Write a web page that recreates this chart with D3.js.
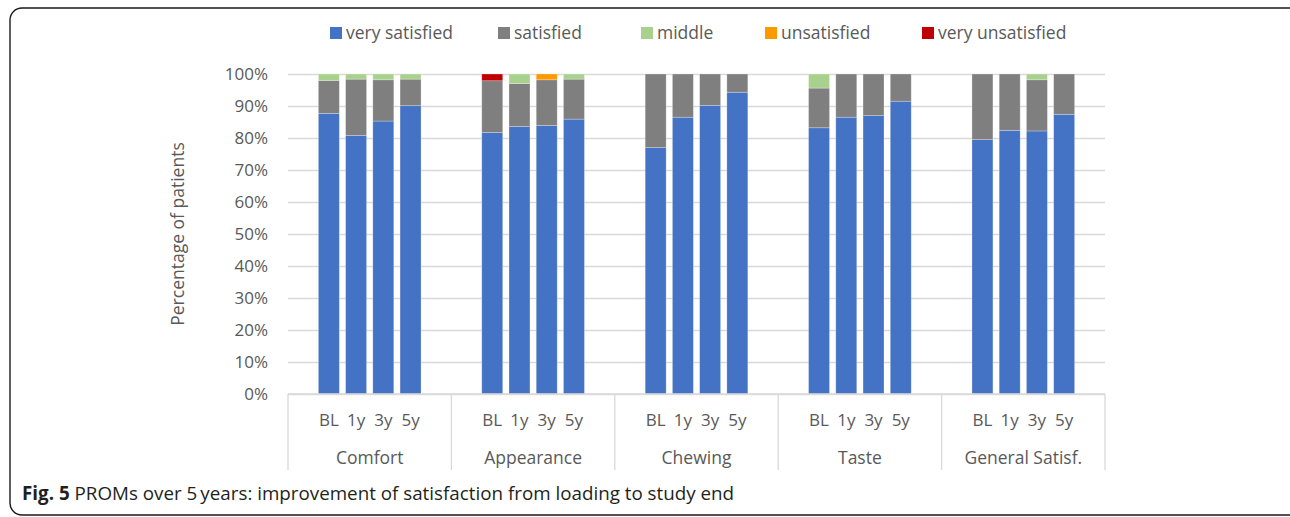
<!DOCTYPE html>
<html>
<head>
<meta charset="utf-8">
<script src="https://cdn.jsdelivr.net/npm/d3@7"></script>
<style>
  html, body { margin: 0; padding: 0; background: #fff; }
  svg { display: block; }
</style>
</head>
<body>
<svg id="chart" width="1290" height="517"></svg>
<script>
const categories = ["Comfort", "Appearance", "Chewing", "Taste", "General Satisf."];
const periods = ["BL", "1y", "3y", "5y"];
const seriesNames = ["very satisfied", "satisfied", "middle", "unsatisfied", "very unsatisfied"];
const seriesColors = ["#4472C4", "#7F7F7F", "#A9D18E", "#FF9900", "#C00000"];
// values per series, ordered category by category, period by period (%)
const verySatisfied   = [87.7, 80.8, 85.3, 90.1,  81.7, 83.6, 83.9, 85.9,  77.0, 86.5, 90.2, 94.3,  83.2, 86.5, 87.0, 91.5,  79.5, 82.4, 82.2, 87.4];
const satisfied       = [10.3, 17.6, 12.9,  8.3,  16.2, 13.4, 14.3, 12.5,  23.0, 13.5,  9.8,  5.7,  12.4, 13.5, 13.0,  8.5,  20.5, 17.6, 16.0, 12.6];
const middle          = [ 2.0,  1.6,  1.8,  1.6,   0.0,  3.0,  0.0,  1.6,   0.0,  0.0,  0.0,  0.0,   4.4,  0.0,  0.0,  0.0,   0.0,  0.0,  1.8,  0.0];
const unsatisfied     = [ 0.0,  0.0,  0.0,  0.0,   0.0,  0.0,  1.8,  0.0,   0.0,  0.0,  0.0,  0.0,   0.0,  0.0,  0.0,  0.0,   0.0,  0.0,  0.0,  0.0];
const veryUnsatisfied = [ 0.0,  0.0,  0.0,  0.0,   2.1,  0.0,  0.0,  0.0,   0.0,  0.0,  0.0,  0.0,   0.0,  0.0,  0.0,  0.0,   0.0,  0.0,  0.0,  0.0];
const yTicks = [0, 10, 20, 30, 40, 50, 60, 70, 80, 90, 100];
const yTitle = "Percentage of patients";
const captionBold = "Fig. 5";
const captionText = "PROMs over 5\u2009years: improvement of satisfaction from loading to study end";

const seriesValues = [verySatisfied, satisfied, middle, unsatisfied, veryUnsatisfied];
const rows = [];
categories.forEach((c, ci) => periods.forEach((p, pi) => {
  const r = { cat: c, period: p };
  seriesNames.forEach((s, si) => r[s] = seriesValues[si][ci * periods.length + pi]);
  rows.push(r);
}));
const stacked = d3.stack().keys(seriesNames)(rows);

const svg = d3.select("#chart");
const font = "'Open Sans', 'Noto Sans', sans-serif";
const textColor = "#595959";
const gridColor = "#D9D9D9";
const fs = "17.5px";

const plot = { left: 288, right: 1105, top: 74, bottom: 394 };

// frame
svg.append("rect")
  .attr("x", 10).attr("y", 8).attr("width", 1320).attr("height", 507)
  .attr("rx", 12).attr("ry", 12)
  .attr("fill", "none").attr("stroke", "#1a1a1a").attr("stroke-width", 1.4);

const y = d3.scaleLinear().domain([0, 100]).range([plot.bottom, plot.top]);
const xGroup = d3.scaleBand().domain(categories).range([plot.left, plot.right]).padding(0);
const slotDomain = ["_pre", ...periods, "_post"];
const xSlot = d3.scaleBand().domain(slotDomain).range([0, xGroup.bandwidth()])
  .paddingInner(0.23).paddingOuter(0.115);

// gridlines via axis
const yAxis = d3.axisLeft(y).tickValues(yTicks).tickSize(-(plot.right - plot.left)).tickFormat(d => d + "%");
const gy = svg.append("g").attr("transform", `translate(${plot.left},0)`).call(yAxis);
gy.select(".domain").remove();
gy.selectAll(".tick line").attr("stroke", gridColor).attr("stroke-width", 1.3);
gy.selectAll(".tick text")
  .attr("x", -20).attr("fill", textColor)
  .style("font-family", font).style("font-size", "17px");

// bars
svg.append("g").selectAll("g").data(stacked).join("g")
  .attr("fill", (d, i) => seriesColors[i])
  .selectAll("rect").data(d => d.filter(v => v[1] - v[0] > 0)).join("rect")
  .attr("x", d => xGroup(d.data.cat) + xSlot(d.data.period))
  .attr("width", xSlot.bandwidth())
  .attr("y", d => y(d[1]))
  .attr("height", d => y(d[0]) - y(d[1]))
  .attr("stroke", "#ffffff").attr("stroke-opacity", 0.35).attr("stroke-width", 0.75);

// category axis: baseline, dividers
svg.append("line")
  .attr("x1", plot.left).attr("x2", plot.right).attr("y1", plot.bottom).attr("y2", plot.bottom)
  .attr("stroke", gridColor).attr("stroke-width", 1.3);
const bounds = [...categories.map(c => xGroup(c)), plot.right];
svg.append("g").selectAll("line").data(bounds).join("line")
  .attr("x1", d => d).attr("x2", d => d)
  .attr("y1", plot.bottom).attr("y2", 470)
  .attr("stroke", gridColor).attr("stroke-width", 1.3);

// period labels
const pl = svg.append("g");
categories.forEach(c => {
  pl.append("g").selectAll("text").data(periods).join("text")
    .attr("x", p => xGroup(c) + xSlot(p) + xSlot.bandwidth() / 2)
    .attr("y", 420).attr("dy", "0.35em")
    .attr("text-anchor", "middle").attr("fill", textColor)
    .style("font-family", font).style("font-size", "17px")
    .text(p => p);
});
// category labels
svg.append("g").selectAll("text").data(categories).join("text")
  .attr("x", c => xGroup(c) + xGroup.bandwidth() / 2)
  .attr("y", 458).attr("dy", "0.35em")
  .attr("text-anchor", "middle").attr("fill", textColor)
  .style("font-family", font).style("font-size", fs)
  .text(c => c);

// y axis title
svg.append("text")
  .attr("transform", `translate(178,${(plot.top + plot.bottom) / 2}) rotate(-90)`)
  .attr("dy", "0.35em").attr("text-anchor", "middle").attr("fill", textColor)
  .style("font-family", font).style("font-size", fs)
  .text(yTitle);

// legend
const legendX = [330, 498, 641, 765, 922];
const lg = svg.append("g").selectAll("g").data(seriesNames).join("g")
  .attr("transform", (d, i) => `translate(${legendX[i]},27)`);
lg.append("rect").attr("width", 12).attr("height", 12).attr("fill", (d, i) => seriesColors[i]);
lg.append("text").attr("x", 16).attr("y", 6).attr("dy", "0.35em")
  .attr("fill", textColor)
  .style("font-family", font).style("font-size", fs)
  .text(d => d);

// caption
const cap = svg.append("text").attr("x", 22).attr("y", 500)
  .style("font-family", font).style("font-size", "18.8px").attr("fill", "#231f20");
cap.append("tspan").attr("font-weight", "bold").text(captionBold);
cap.append("tspan").attr("font-weight", 400).text(" " + captionText);
</script>
</body>
</html>
